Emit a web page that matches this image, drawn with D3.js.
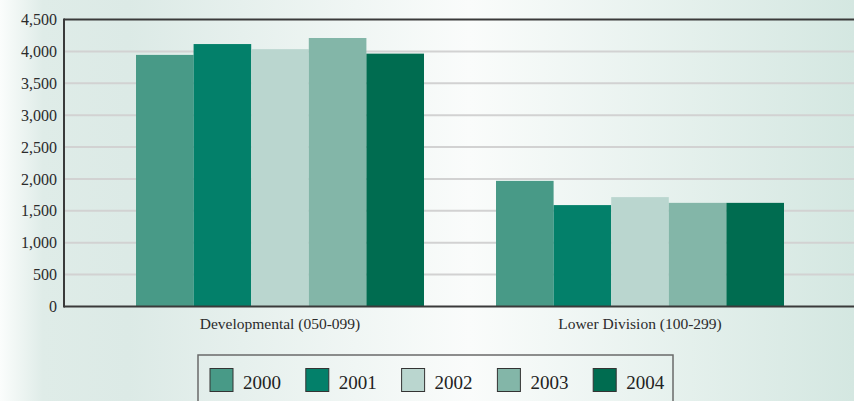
<!DOCTYPE html>
<html><head><meta charset="utf-8">
<script src="https://cdn.jsdelivr.net/npm/d3@7"></script>
<style>html,body{margin:0;padding:0;overflow:hidden;background:#fff}</style>
</head><body>
<svg id="c" width="854" height="401"></svg>
<script>
const categories = ["Developmental (050-099)", "Lower Division (100-299)"];
const years = ["2000", "2001", "2002", "2003", "2004"];
const values2000 = [3945, 1970];
const values2001 = [4115, 1590];
const values2002 = [4035, 1715];
const values2003 = [4210, 1625];
const values2004 = [3965, 1625];
const series = [values2000, values2001, values2002, values2003, values2004];
const colors = ["#489a87", "#03806a", "#bad6cf", "#83b6a8", "#006c50"];
const yTicks = [0, 500, 1000, 1500, 2000, 2500, 3000, 3500, 4000, 4500];

(function(){
const FONT = '"Liberation Serif", "Times New Roman", serif';
const svg = d3.select("#c");
const W = 854, H = 401;
const defs = svg.append("defs");
const g1 = defs.append("linearGradient").attr("id","bg").attr("x1","0").attr("x2","1").attr("y1","0").attr("y2","0");
[[0,"#fbfdfc"],[0.05,"#dfece8"],[0.15,"#dceae6"],[0.55,"#fafcfb"],[1,"#d4e7e1"]].forEach(s=>g1.append("stop").attr("offset",s[0]).attr("stop-color",s[1]));
svg.append("rect").attr("width",W).attr("height",H).attr("fill","url(#bg)");

const mLeft = 64, mRight = 856, mTop = 19.5, mBottom = 306.5;
const x0 = d3.scaleBand().domain(categories).range([mLeft, mRight]).paddingInner(0.2).paddingOuter(0.2);
const x1 = d3.scaleBand().domain(years).range([0, x0.bandwidth()]).padding(0);
const y = d3.scaleLinear().domain([0, 4500]).range([mBottom, mTop]);

svg.append("g").selectAll("line").data(yTicks.filter(t=>t>0 && t<4500)).join("line")
  .attr("x1", mLeft).attr("x2", W).attr("y1", d=>y(d)).attr("y2", d=>y(d))
  .attr("stroke", "#d2d2d2").attr("stroke-width", 2);

const gb = svg.append("g");
categories.forEach((c, ci) => {
  years.forEach((yr, si) => {
    const v = series[si][ci];
    gb.append("rect")
      .attr("x", x0(c) + x1(yr)).attr("width", x1.bandwidth())
      .attr("y", y(v)).attr("height", mBottom - y(v))
      .attr("fill", colors[si]);
  });
});

svg.append("line").attr("x1", mLeft).attr("x2", W).attr("y1", mTop).attr("y2", mTop).attr("stroke","#3a3a3a").attr("stroke-width",2);
svg.append("line").attr("x1", mLeft).attr("x2", W).attr("y1", mBottom).attr("y2", mBottom).attr("stroke","#3a3a3a").attr("stroke-width",2);
svg.append("line").attr("x1", mLeft).attr("x2", mLeft).attr("y1", mTop-1).attr("y2", mBottom+1).attr("stroke","#3a3a3a").attr("stroke-width",2);

const yAxis = d3.axisLeft(y).tickValues(yTicks).tickSize(0).tickPadding(7).tickFormat(d3.format(","));
const ga = svg.append("g").attr("transform", `translate(${mLeft},0)`).call(yAxis);
ga.attr("font-family", null);
ga.select(".domain").remove();
ga.selectAll("text").style("font-family", FONT).style("font-size","16px").attr("fill","#2b2b2b");

const xAxis = d3.axisBottom(x0).tickSize(0).tickPadding(11);
const gx = svg.append("g").attr("transform", `translate(0,${mBottom})`).call(xAxis);
gx.attr("font-family", null);
gx.select(".domain").remove();
gx.selectAll("text").style("font-family", FONT).style("font-size","15.5px").attr("fill","#2b2b2b");

const lg = svg.append("g");
lg.append("rect").attr("x",198).attr("y",355).attr("width",475).attr("height",60)
  .attr("fill","none").attr("stroke","#6a6a6a").attr("stroke-width",1.5);
years.forEach((yr,i)=>{
  const lx = 210 + i*95.8;
  lg.append("rect").attr("x",lx).attr("y",368.5).attr("width",23).attr("height",23)
    .attr("fill",colors[i]).attr("stroke","#333").attr("stroke-width",1);
  lg.append("text").attr("x",lx+33).attr("y",389).text(yr)
    .style("font-family", FONT).style("font-size","19px").attr("fill","#222");
});
})();
</script>
</body></html>
